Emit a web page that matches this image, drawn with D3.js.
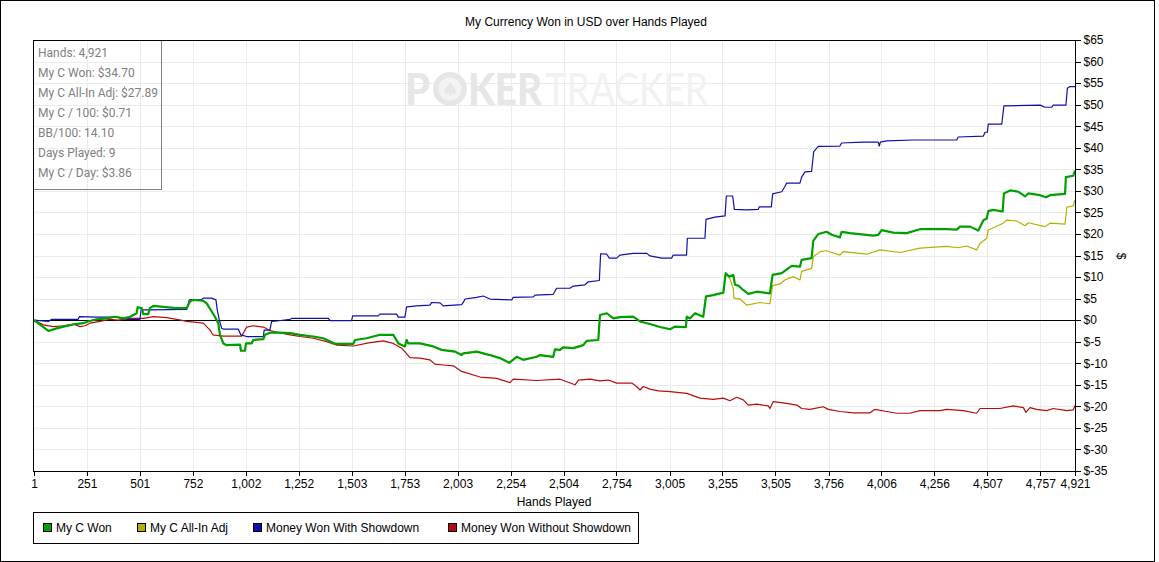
<!DOCTYPE html>
<html>
<head>
<meta charset="utf-8">
<script src="https://cdn.jsdelivr.net/npm/d3@7/dist/d3.min.js"></script>
<style>
  html, body { margin: 0; padding: 0; background: #fff; }
  svg { display: block; }
</style>
</head>
<body>
<svg id="chart" width="1159" height="562"></svg>
<script>
// ---------------- DATA ----------------
const chartTitle = "My Currency Won in USD over Hands Played";
const xTitle = "Hands Played";
const yTitle = "$";

const xTicks = [1, 251, 501, 752, 1002, 1252, 1503, 1753, 2003, 2254, 2504, 2754, 3005, 3255, 3505, 3756, 4006, 4256, 4507, 4757, 4921];
const yTicks = [-35, -30, -25, -20, -15, -10, -5, 0, 5, 10, 15, 20, 25, 30, 35, 40, 45, 50, 55, 60, 65];

const statsLines = ["Hands: 4,921", "My C Won: $34.70", "My C All-In Adj: $27.89", "My C / 100: $0.71", "BB/100: 14.10", "Days Played: 9", "My C / Day: $3.86"];

const seriesNames = ["My C Won", "My C All-In Adj", "Money Won With Showdown", "Money Won Without Showdown"];
const seriesColors = ["#00a000", "#b4b000", "#1010a8", "#b80c0c"];

// My C Won
const wonHands = [1, 53, 69, 108, 140, 187, 234, 256, 297, 345, 384, 422, 455, 486, 491, 510, 518, 541, 549, 565, 612, 675, 723, 738, 754, 801, 817, 841, 856, 872, 880, 896, 912, 975, 979, 998, 1003, 1030, 1037, 1085, 1093, 1116, 1160,
  1211, 1258, 1321, 1368, 1424, 1510, 1518, 1573, 1636, 1699, 1723, 1754, 1762, 1770, 1825, 1888, 1928, 1991, 2022, 2030, 2093, 2156, 2203, 2247, 2282, 2313, 2377, 2392, 2455, 2463, 2487, 2502, 2550, 2597, 2613, 2668,
  2676, 2708, 2739, 2770, 2833, 2865, 2912, 2960, 3007, 3030, 3082, 3086, 3101, 3125, 3164, 3177, 3211, 3259, 3270, 3286,
  3306, 3314, 3330, 3353, 3377, 3417, 3479, 3492, 3535, 3582, 3621, 3629, 3676, 3684, 3708, 3747, 3771, 3810, 3818, 3858, 3936, 3968, 3991, 4007, 4062, 4125, 4188, 4315, 4362, 4377, 4425, 4464, 4488, 4504, 4511, 4535, 4579, 4585, 4614, 4653, 4685, 4700, 4756, 4784, 4803, 4874, 4878, 4913, 4921];
const wonValues = [0, -1.9, -2.5, -1.9, -1.5, -1.0, -0.7, -0.3, 0.2, 0.4, 0.8, 0.4, 0.8, 1.6, 3.0, 2.8, 1.4, 1.4, 2.8, 3.3, 3.1, 2.8, 2.8, 4.3, 4.7, 4.5, 3.9, 2.0, 0.8, -0.7, -3.4, -5.4, -5.8, -5.7, -7.1, -7.1, -5.4, -5.4, -4.6, -4.4, -3.4, -2.9, -2.9,
  -3.0, -3.4, -3.8, -4.2, -5.5, -5.5, -4.6, -4.2, -3.4, -3.4, -5.4, -6.1, -4.6, -5.4, -5.4, -6.1, -6.9, -7.3, -8.1, -7.7, -7.3, -8.1, -8.8, -9.9, -8.5, -9.2, -8.5, -8.1, -8.5, -6.8, -6.9, -6.3, -6.5, -5.8, -4.8, -4.6,
  1.2, 1.6, 0.4, 0.7, 0.8, -0.3, -0.9, -1.6, -2.1, -1.5, -1.6, 0.8, 0.4, 1.6, 0.8, 5.5, 5.8, 6.4, 10.9, 10.1,
  10.5, 8.2, 8.0, 7.0, 6.1, 6.6, 6.2, 10.5, 10.9, 12.6, 12.4, 14.0, 14.4, 18.4, 20.0, 20.5, 19.8, 19.2, 20.5, 20.2, 19.8, 19.6, 19.8, 20.9, 20.3, 20.2, 21.1, 21.1, 21.0, 21.7, 21.7, 20.8, 23.2, 23.6, 25.3, 25.6, 25.2, 29.4, 30.1, 29.8, 28.7, 29.4, 29.0, 28.5, 29.0, 29.3, 33.2, 33.5, 34.7];

// My C All-In Adj: identical to My C Won until the first adjusted all-in (hand 3286), then its own values
const allInSplitHand = 3286;
const allInTailHands = [3306, 3309, 3338, 3369, 3432, 3479, 3492, 3527, 3550, 3590, 3621, 3629, 3676, 3684, 3716, 3747, 3810, 3826, 3936, 3999, 4094, 4188, 4315, 4369, 4409, 4456, 4472, 4504, 4511, 4582, 4598, 4645, 4685, 4700, 4779, 4803, 4874, 4882, 4913, 4921];
const allInTailValues = [7.4, 5.1, 4.9, 3.5, 4.1, 3.8, 8.0, 8.4, 9.3, 10.1, 9.3, 11.3, 12.0, 14.7, 15.9, 16.1, 15.1, 15.9, 15.3, 16.3, 15.7, 16.7, 17.1, 16.8, 17.2, 16.3, 17.8, 19.0, 20.9, 22.5, 23.2, 23.0, 21.9, 22.6, 21.7, 22.5, 22.3, 26.2, 26.5, 27.9];

// Money Won With Showdown
const sdHands = [1, 69, 85, 210, 215, 297, 392, 439, 502, 507, 549, 723, 735, 794, 801, 841, 861, 867, 877, 888, 896, 967, 978, 1006, 1085, 1089, 1116, 1124, 1148, 1211, 1219, 1392, 1400, 1502, 1507, 1628, 1636, 1715, 1723, 1754, 1762, 1810, 1872, 1881, 1920, 1935, 2022, 2030, 2038, 2093, 2124, 2156, 2259, 2266, 2361, 2369, 2455, 2471, 2534, 2550, 2605, 2621, 2673,
  2679, 2708, 2720, 2755, 2770, 2833, 2897, 2912, 2968, 3015, 3022, 3085, 3089, 3172, 3177, 3219, 3267, 3273, 3303, 3311, 3369, 3424, 3429, 3486, 3492, 3535, 3550, 3558, 3621, 3629, 3645, 3676, 3686, 3708, 3810, 3818, 3920, 3991, 3996, 4001, 4031, 4157, 4362, 4369, 4488, 4496, 4507, 4511, 4575, 4585, 4756, 4779, 4811, 4818, 4878, 4885, 4897, 4921];
const sdValues = [0, -0.3, 0.2, 0.2, 0.8, 0.7, 0.7, 0.2, 0.2, 2.4, 2.4, 2.5, 4.7, 4.8, 5.1, 5.1, 4.7, 2.4, 0, -1.9, -2.1, -2.1, -3.4, -3.8, -3.8, -2.3, -2.3, -0.3, -0.2, 0.2, 0.4, 0.4, -0.1, -0.1, 1.0, 1.0, 1.4, 1.4, 0.7, 0.7, 3.1, 3.3, 3.5, 4.1, 4.0, 3.3, 3.6, 4.1, 4.9, 5.3, 5.6, 4.9, 4.7, 5.3, 5.4, 5.8, 6.0, 7.4, 7.4, 7.9, 8.2, 8.9, 9.2,
  15.4, 15.3, 14.4, 14.4, 15.1, 15.5, 15.5, 14.9, 14.4, 14.4, 15.1, 15.1, 19.0, 19.0, 23.4, 23.9, 24.2, 28.8, 28.8, 25.7, 25.6, 25.7, 26.3, 26.3, 29.3, 29.8, 31.0, 31.8, 31.8, 33.2, 34.4, 34.5, 39.1, 40.3, 40.4, 41.1, 41.3, 41.3, 40.4, 41.3, 41.6, 41.8, 41.8, 42.5, 42.7, 43.6, 43.6, 45.5, 45.5, 49.7, 49.9, 49.4, 49.4, 49.9, 49.9, 53.8, 54.2, 54.2];

// Money Won Without Showdown
const nsdHands = [1, 45, 92, 140, 187, 218, 242, 266, 313, 360, 399, 455, 518, 565, 628, 675, 723, 770, 801, 833, 846, 896, 983, 1006, 1037, 1085, 1116, 1160, 1211, 1258, 1321, 1384, 1432, 1510, 1589, 1652, 1699, 1739, 1778, 1825, 1872, 1896, 1935, 1983, 2022, 2109, 2188, 2251, 2266, 2377, 2487, 2558, 2574, 2629,
  2676, 2715, 2755, 2826, 2849, 2865, 2881, 2912, 2952, 3007, 3086, 3149, 3211, 3259, 3290, 3322, 3353, 3377, 3417, 3471, 3479, 3495, 3558, 3606, 3629, 3668, 3731, 3755, 3810, 3873, 3952, 3976, 4031, 4078, 4141, 4188, 4283, 4315, 4393, 4456, 4472, 4566, 4629, 4677, 4689, 4708, 4740, 4787, 4818, 4882, 4913, 4921];
const nsdValues = [0, -1.1, -1.5, -1.3, -0.9, -1.5, -1.3, -0.7, -0.3, 0.2, 0.0, 0.4, 0.4, 0.8, 0.6, 0.2, -0.3, -0.5, -0.7, -2.3, -3.4, -3.7, -3.7, -1.6, -1.3, -1.6, -2.4, -2.9, -3.4, -3.8, -4.2, -5.0, -5.8, -6.0, -5.2, -4.8, -5.4, -6.5, -8.7, -8.8, -9.2, -10.2, -10.4, -10.6, -11.9, -13.2, -13.5, -14.5, -13.7, -14.0, -13.7, -15.0, -13.9, -13.7,
  -14.1, -13.9, -14.6, -14.6, -15.4, -16.2, -15.4, -16.0, -16.4, -16.6, -17.0, -18.1, -18.4, -18.1, -18.7, -17.9, -18.5, -19.7, -19.5, -19.9, -20.5, -18.9, -19.3, -19.7, -20.5, -20.7, -20.1, -20.7, -21.2, -21.5, -21.5, -20.7, -21.2, -21.6, -21.6, -21.0, -21.0, -20.7, -21.0, -21.6, -20.5, -20.5, -19.9, -20.3, -21.4, -20.3, -20.7, -21.0, -20.5, -21.0, -20.8, -19.8];

// ---------------- BUILD ----------------
const zip = (hs, vs) => hs.map((h, i) => ({ h: h, v: vs[i] }));
const wonData = zip(wonHands, wonValues);
const allInData = wonData.filter(d => d.h <= allInSplitHand).concat(zip(allInTailHands, allInTailValues));
const sdData = zip(sdHands, sdValues);
const nsdData = zip(nsdHands, nsdValues);

const svg = d3.select("#chart");
const W = 1159, H = 562;
const plot = { left: 34, right: 1075, top: 40, bottom: 471 };

const x = d3.scaleLinear().domain([1, 4921]).range([plot.left, plot.right]);
const y = d3.scaleLinear().domain([-35, 65]).range([plot.bottom, plot.top]);

const FONT = "'Liberation Sans', Arial, sans-serif";

// outer frame
svg.append("rect").attr("x", 0.5).attr("y", 0.5).attr("width", 1154).attr("height", 561)
  .attr("fill", "#fff").attr("stroke", "#000").attr("stroke-width", 1);

// title
svg.append("text").attr("x", 586).attr("y", 26).attr("text-anchor", "middle")
  .attr("font-family", FONT).attr("font-size", 12).attr("fill", "#000").text(chartTitle);

// grid
const grid = svg.append("g").attr("shape-rendering", "crispEdges");
grid.selectAll("line.gx").data(xTicks.slice(1, -1)).join("line")
  .attr("x1", d => Math.round(x(d)) + 0.5).attr("x2", d => Math.round(x(d)) + 0.5)
  .attr("y1", plot.top).attr("y2", plot.bottom).attr("stroke", "#ebebeb");
grid.selectAll("line.gy").data(yTicks.slice(1, -1)).join("line")
  .attr("y1", d => Math.round(y(d)) + 0.5).attr("y2", d => Math.round(y(d)) + 0.5)
  .attr("x1", plot.left).attr("x2", plot.right).attr("stroke", "#ebebeb");

// watermark
const wm = svg.append("g");
wm.append("text").attr("x", 405).attr("y", 105).attr("font-family", "Lato, 'Open Sans', sans-serif")
  .attr("font-weight", 900).attr("font-size", 44).attr("fill", "#e6e6e6")
  .attr("textLength", 25).attr("lengthAdjust", "spacingAndGlyphs").text("P");
wm.append("circle").attr("cx", 450).attr("cy", 89).attr("r", 17).attr("fill", "#e6e6e6");
wm.append("circle").attr("cx", 450).attr("cy", 89).attr("r", 11.5).attr("fill", "#f3f3f3");
wm.append("text").attr("x", 450).attr("y", 96).attr("text-anchor", "middle").attr("font-size", 19)
  .attr("font-family", "'DejaVu Sans', sans-serif").attr("fill", "#e6e6e6").text("\u2660");
wm.append("text").attr("x", 468).attr("y", 105).attr("font-family", "Lato, 'Open Sans', sans-serif")
  .attr("font-weight", 900).attr("font-size", 44).attr("fill", "#e6e6e6")
  .attr("textLength", 74).attr("lengthAdjust", "spacingAndGlyphs").text("KER");
wm.append("text").attr("x", 545).attr("y", 105).attr("font-family", "Lato, 'Open Sans', sans-serif")
  .attr("font-weight", 400).attr("font-size", 44).attr("fill", "#f1f1f1")
  .attr("textLength", 163).attr("lengthAdjust", "spacingAndGlyphs").text("TRACKER");

// zero line
svg.append("line").attr("x1", plot.left).attr("x2", plot.right)
  .attr("y1", Math.round(y(0)) + 0.5).attr("y2", Math.round(y(0)) + 0.5)
  .attr("stroke", "#000").attr("shape-rendering", "crispEdges");

// series lines (drawn so that My C Won ends up on top)
const line = d3.line().x(d => x(d.h)).y(d => y(d.v)).curve(d3.curveLinear);
const clip = svg.append("clipPath").attr("id", "plotclip").append("rect")
  .attr("x", plot.left).attr("y", plot.top).attr("width", plot.right - plot.left + 1).attr("height", plot.bottom - plot.top);
const lines = svg.append("g").attr("clip-path", "url(#plotclip)").attr("fill", "none")
  .attr("stroke-linejoin", "round");
const drawOrder = [
  { data: nsdData, color: seriesColors[3], w: 1.2 },
  { data: sdData, color: seriesColors[2], w: 1.2 },
  { data: allInData, color: seriesColors[1], w: 1.2 },
  { data: wonData, color: seriesColors[0], w: 2.2 }
];
drawOrder.forEach(s => {
  lines.append("path").datum(s.data).attr("d", line).attr("stroke", s.color).attr("stroke-width", s.w);
});

// info box
svg.append("rect").attr("x", 33.5).attr("y", 40.5).attr("width", 128).attr("height", 149)
  .attr("fill", "none").attr("stroke", "#808080").attr("shape-rendering", "crispEdges");
svg.append("g").selectAll("text").data(statsLines).join("text")
  .attr("x", 38).attr("y", (d, i) => 57 + i * 20)
  .attr("font-family", "Roboto, 'Noto Sans', sans-serif").attr("font-size", 12).attr("fill", "#808080")
  .text(d => d);

// plot frame
svg.append("rect").attr("x", plot.left - 0.5).attr("y", plot.top + 0.5)
  .attr("width", plot.right - plot.left + 1).attr("height", plot.bottom - plot.top)
  .attr("fill", "none").attr("stroke", "#000").attr("shape-rendering", "crispEdges");

// axes
const yAxis = d3.axisRight(y).tickValues(yTicks).tickFormat(d => "$" + d).tickSize(5).tickSizeOuter(0).tickPadding(3);
const gy = svg.append("g").attr("transform", `translate(${plot.right + 0.5},0)`).call(yAxis);
gy.select(".domain").remove();
gy.selectAll("text").attr("font-family", FONT).attr("font-size", 12).attr("fill", "#000");
gy.selectAll("line").attr("stroke", "#000").attr("shape-rendering", "crispEdges");

const xAxis = d3.axisBottom(x).tickValues(xTicks).tickFormat(d3.format(",")).tickSize(4).tickSizeOuter(0).tickPadding(4);
const gx = svg.append("g").attr("transform", `translate(0,${plot.bottom + 0.5})`).call(xAxis);
gx.select(".domain").remove();
gx.selectAll("text").attr("font-family", FONT).attr("font-size", 12).attr("fill", "#000");
gx.selectAll("line").attr("stroke", "#000").attr("shape-rendering", "crispEdges");

// axis titles
svg.append("text").attr("x", 554).attr("y", 506).attr("text-anchor", "middle")
  .attr("font-family", FONT).attr("font-size", 12).attr("fill", "#000").text(xTitle);
svg.append("text").attr("transform", "translate(1117,256) rotate(90)").attr("text-anchor", "middle")
  .attr("font-family", FONT).attr("font-size", 12).attr("fill", "#000").text(yTitle);

// legend
svg.append("rect").attr("x", 33.5).attr("y", 512.5).attr("width", 605).attr("height", 31)
  .attr("fill", "#fff").attr("stroke", "#000").attr("shape-rendering", "crispEdges");
const legendX = [43, 137, 253, 448];
const lg = svg.append("g").selectAll("g").data(seriesNames).join("g")
  .attr("transform", (d, i) => `translate(${legendX[i]},0)`);
lg.append("rect").attr("x", 0.5).attr("y", 523.5).attr("width", 8).attr("height", 8)
  .attr("fill", (d, i) => seriesColors[i]).attr("stroke", "#000").attr("shape-rendering", "crispEdges");
lg.append("text").attr("x", 13).attr("y", 532).attr("font-family", FONT).attr("font-size", 12)
  .attr("fill", "#000").text(d => d);
</script>
</body>
</html>
